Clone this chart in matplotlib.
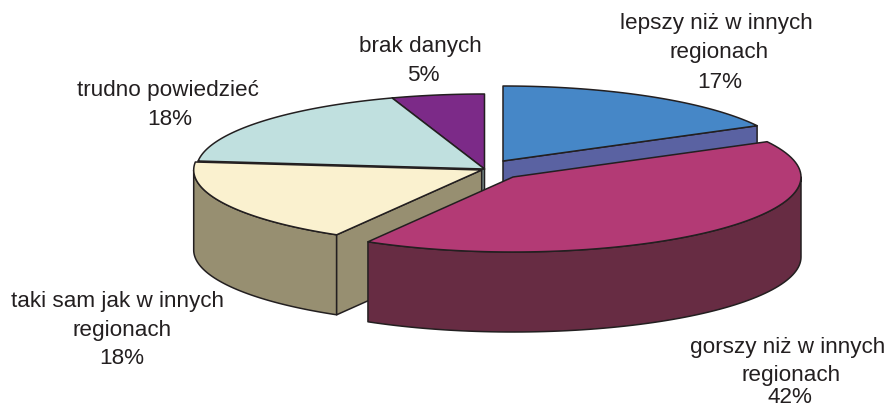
import numpy as np
import matplotlib
matplotlib.use("Agg")
import matplotlib.pyplot as plt
from matplotlib.patches import Polygon

plt.rcParams['font.family'] = ['Liberation Sans', 'DejaVu Sans']

# slices, clockwise from the top
names = [["lepszy niż w innych", "regionach"], ["gorszy niż w innych", "regionach"],
         ["taki sam jak w innych", "regionach"], ["trudno powiedzieć"], ["brak danych"]]
percent_labels = ["17%", "42%", "18%", "18%", "5%"]
# slice sizes (labels are rounded)
shares = [17.2, 41.2, 18.3, 18.1, 5.2]

top_colors = ["#4687c7", "#b33a75", "#faf1cf", "#c0e0df", "#7c2a88"]
side_colors = ["#5a62a2", "#672c43", "#978f71", "#7b9090", "#4d1a55"]
edge = "#231f20"

# layout in pixels
centers = [(503, 161), (513, 177), (481.7, 170), (484.5, 169), (484.5, 169)]
rx = 288
ry = 75
depth = 80
# line centres and baselines of each label, the lines are not quite aligned
label_x = [[716, 719, 720], [787.5, 791, 790], [117.5, 122, 121.5], [167.5, 170], [420, 423]]
label_y = [[29, 58, 88], [353, 381, 403], [307, 336, 364], [96, 125], [52, 81]]

edges = np.concatenate([[0], np.cumsum(shares)]) * 3.6


def point(i, deg):
    a = np.radians(deg)
    return centers[i][0] + rx * np.sin(a), centers[i][1] - ry * np.cos(a)


def arc(i, a, b):
    return [point(i, d) for d in np.linspace(a, b, 80)]


def add(pts, color):
    ax.add_patch(Polygon(pts, closed=True, facecolor=color, edgecolor=edge,
                         linewidth=1.1, joinstyle='round'))


def top(i):
    add([centers[i]] + arc(i, edges[i], edges[i + 1]), top_colors[i])


def rim(i):
    # only the part of the outer wall that faces the viewer
    a = max(edges[i], 90)
    b = min(edges[i + 1], 270)
    pts = arc(i, a, b)
    low = [(x, y + depth) for x, y in pts[::-1]]
    add(pts + low, side_colors[i])


def cut(i, deg):
    x, y = point(i, deg)
    cx, cy = centers[i]
    add([(cx, cy), (x, y), (x, y + depth), (cx, cy + depth)], side_colors[i])


fig = plt.figure(figsize=(8.88, 4.08), dpi=100)
ax = fig.add_axes([0, 0, 1, 1])
ax.set_xlim(0, 888)
ax.set_ylim(408, 0)
ax.axis('off')

# back to front
cut(3, edges[3])
top(4)
top(3)
rim(2)
cut(2, edges[2])
top(2)
cut(0, edges[1])
top(0)
rim(1)
top(1)

for i in range(len(names)):
    lines = names[i] + [percent_labels[i]]
    for line, x, y in zip(lines, label_x[i], label_y[i]):
        ax.text(x, y, line, ha='center', va='baseline', fontsize=16.2, color=edge)

fig.savefig("out.png", dpi=100)
